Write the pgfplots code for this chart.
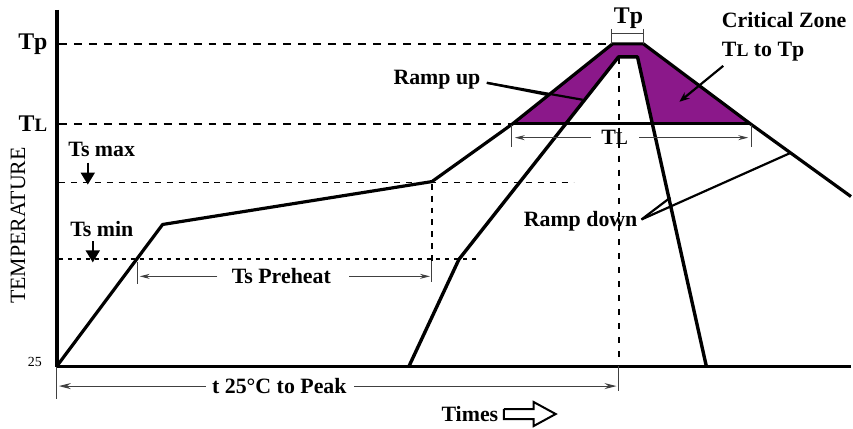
\documentclass[border=0pt]{standalone}
\usepackage{pgfplots}
\pgfplotsset{compat=1.18}
\usepackage{fontspec}
\setmainfont{Liberation Serif}
\usetikzlibrary{arrows.meta}
\definecolor{zone}{RGB}{139,24,138}
\begin{document}
\begin{tikzpicture}
\begin{axis}[scale only axis, width=426.5bp, height=213.5bp,
  xmin=0, xmax=853, ymin=0, ymax=427, y dir=reverse,
  hide axis, clip=false,
  every node/.style={inner sep=0pt},
  font=\bfseries\fontsize{11}{13}\selectfont]
\addplot[draw=none] coordinates {(0,0) (853,427)};
% critical zone
\addplot[fill=zone, draw=none] coordinates {(514,124) (614,44) (645,44) (752,124) (514,124)};
\addplot[fill=white, draw=none] coordinates {(567,124) (620,57) (639,57) (654,124) (567,124)};
% reference dashed lines
\addplot[line width=1.1bp, dash pattern=on 4bp off 3.5bp] coordinates {(59,44) (614,44)};
\addplot[line width=1.1bp, dash pattern=on 4bp off 3.5bp] coordinates {(59,124) (514,124)};
\addplot[line width=0.9bp, dash pattern=on 3bp off 3bp] coordinates {(59,183) (575,183)};
\addplot[line width=1bp, dash pattern=on 2bp off 2.5bp] coordinates {(59,260) (478,260)};
\addplot[line width=1bp, dash pattern=on 3bp off 3bp] coordinates {(433,184) (433,262)};
\addplot[line width=1bp, dash pattern=on 3bp off 4bp] coordinates {(620,58) (620,366)};
% axes
\addplot[line width=2bp] coordinates {(57,10) (57,368)};
\addplot[line width=1.5bp] coordinates {(57,367) (853,367)};
% TL solid
\addplot[line width=1.4bp] coordinates {(514,124) (752,124)};
% profiles
\addplot[line width=1.6bp, line join=round] coordinates {(57,367) (163,225) (433,182) (514,124) (614,44) (645,44) (752,124) (853,197)};
\addplot[line width=1.7bp, line join=round] coordinates {(410,367) (460,260) (620,57) (639,57) (708,367)};
% dimension lines
\pgfplotsset{dim/.style={line width=0.5bp, black!75}}
\addplot[dim] coordinates {(613,29) (613,44)};
\addplot[dim] coordinates {(645,29) (645,44)};
\addplot[dim] coordinates {(613,34) (645,34)};
\addplot[dim] coordinates {(513,125) (513,147)};
\addplot[dim] coordinates {(753,125) (753,147)};
\addplot[dim, -{Stealth[length=5bp,width=2.5bp]}] coordinates {(592,138) (516,138)};
\addplot[dim, -{Stealth[length=5bp,width=2.5bp]}] coordinates {(641,138) (750,138)};
\addplot[dim] coordinates {(138,263) (138,285)};
\addplot[dim] coordinates {(433,262) (433,283)};
\addplot[dim, -{Stealth[length=5bp,width=2.5bp]}] coordinates {(218,277) (140,277)};
\addplot[dim, -{Stealth[length=5bp,width=2.5bp]}] coordinates {(350,277) (431,277)};
\addplot[dim] coordinates {(57,368) (57,400)};
\addplot[dim] coordinates {(620,367) (620,392)};
\addplot[dim, -{Stealth[length=6bp,width=3bp]}] coordinates {(206,387) (59,387)};
\addplot[dim, -{Stealth[length=6bp,width=3bp]}] coordinates {(355,387) (618,387)};
% pointer lines
\addplot[line width=1.1bp] coordinates {(488,83) (548,95)};
\addplot[line width=1.1bp] coordinates {(488,83) (584,100)};
\addplot[line width=1.1bp, -{Stealth[length=5bp,width=4bp]}] coordinates {(725,66) (681,102)};
\addplot[line width=1.1bp] coordinates {(643,220) (793,153)};
\addplot[line width=1.1bp] coordinates {(643,220) (672,198)};
\addplot[line width=1bp, -{Triangle[length=6bp,width=7bp]}] coordinates {(88,163) (88,185)};
\addplot[line width=1bp, -{Triangle[length=6bp,width=7bp]}] coordinates {(93,242) (93,263)};
% Times arrow
\addplot[line width=1bp, fill=white] coordinates {(505,410) (535,410) (535,403) (557,415) (535,427) (535,420) (505,420) (505,410)};
% labels
\node at (axis cs:33,44) {\fontsize{12}{12}\selectfont Tp};
\node at (axis cs:33,124) {\fontsize{12}{12}\selectfont T{\fontsize{9.5}{10}\selectfont L}};
\node[rotate=90] at (axis cs:18,226) {\mdseries\fontsize{11}{11}\selectfont TEMPERATURE};
\node at (axis cs:35,363) {\mdseries\fontsize{7}{7}\selectfont 25};
\node at (axis cs:102,150) {Ts max};
\node at (axis cs:102,230) {Ts min};
\node at (axis cs:282,277) {Ts Preheat};
\node at (axis cs:280,387) {t 25°C to Peak};
\node at (axis cs:471,415) {Times};
\node at (axis cs:630,18) {\fontsize{12}{12}\selectfont Tp};
\node at (axis cs:616,138) {T{\fontsize{9}{9}\selectfont L}};
\node at (axis cs:786,20) {Critical Zone};
\node at (axis cs:765,52) {T{\fontsize{9}{9}\selectfont L} to Tp};
\node at (axis cs:438,80) {Ramp up};
\node at (axis cs:582,222) {Ramp down};
\end{axis}
\end{tikzpicture}
\end{document}
